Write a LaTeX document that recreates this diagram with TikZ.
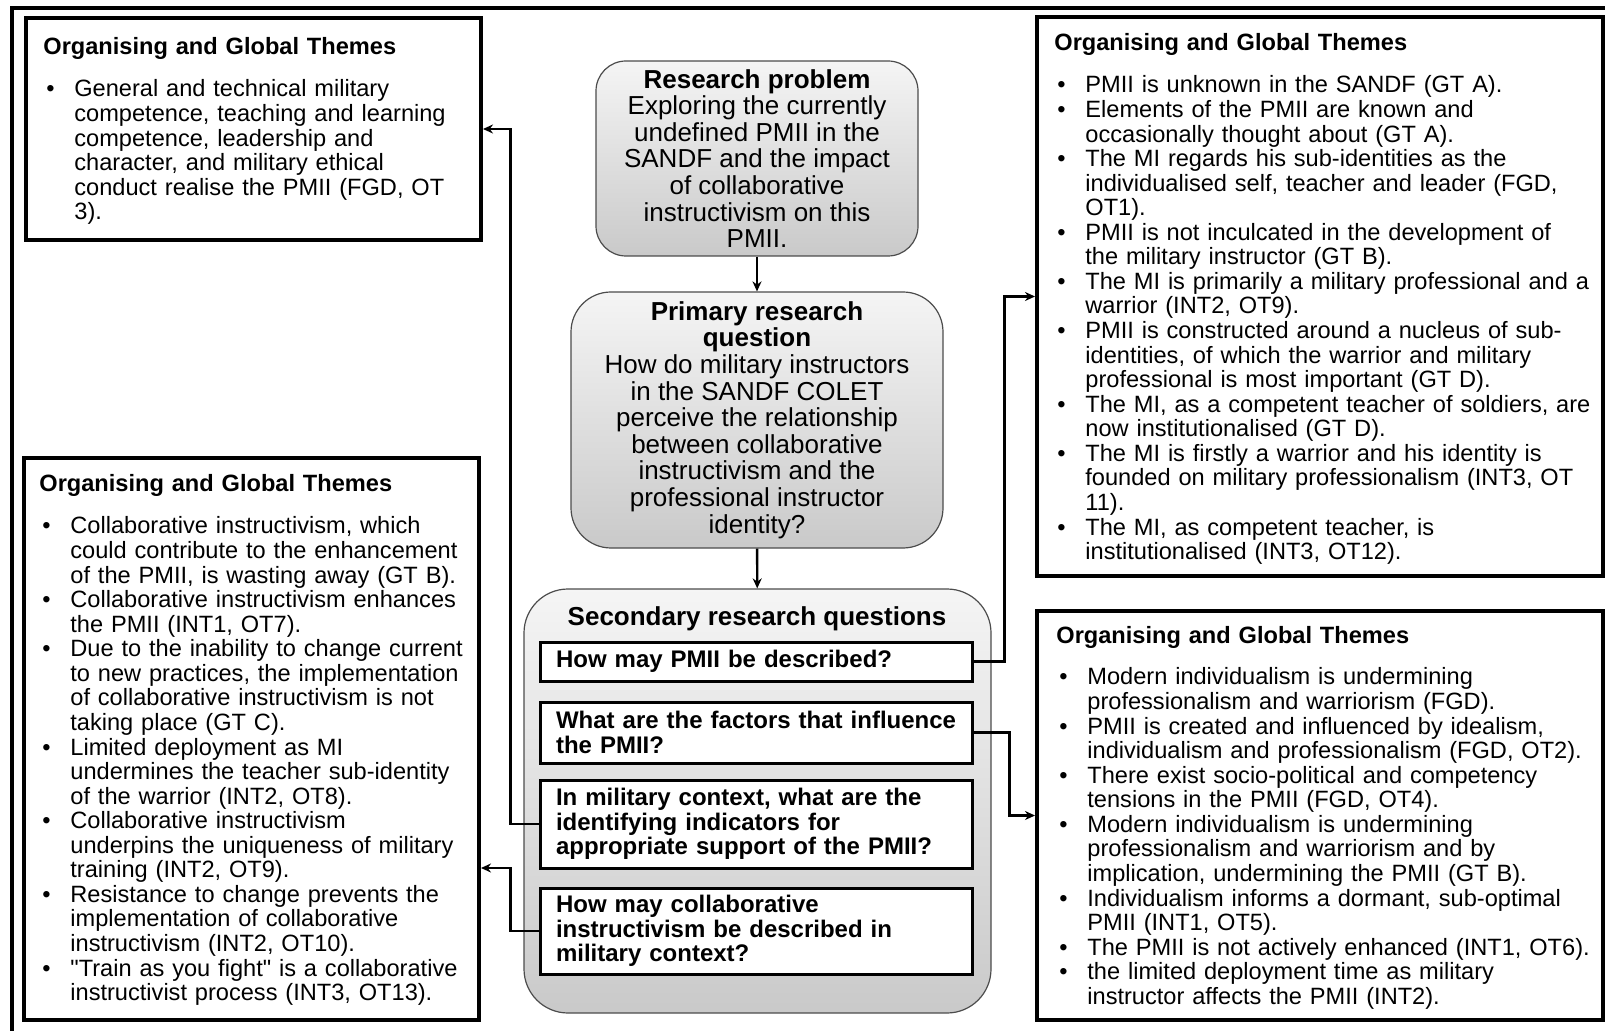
\documentclass[tikz,border=0pt]{standalone}
\usepackage{fontspec}
\setmainfont{Liberation Sans}
\usetikzlibrary{arrows.meta,shadows}

\newcommand{\themehead}{\noindent\textbf{Organising and Global Themes}\par\vspace{8.7pt}}
\newcommand{\themeitem}{\par\noindent\hangindent=15.5pt\hangafter=1\makebox[15.5pt][l]{\hspace{1.5pt}\textbullet}}

\begin{document}
\begin{tikzpicture}[x=0.5pt,y=-0.5pt,
  theme/.style={draw=black,line width=2pt,fill=white,inner sep=0pt,
               drop shadow={shadow xshift=1.2pt,shadow yshift=-1.2pt,opacity=0.3}},
  themetxt/.style={anchor=base west,inner sep=0pt,align=left,
               font=\fontsize{11.8}{12.28}\selectfont},
  stage/.style={draw=black!70,line width=0.6pt,top color=gray!8,bottom color=gray!42,
               align=center,inner sep=0pt,font=\fontsize{13}{13.3}\selectfont},
  quest/.style={draw=black,line width=1.5pt,fill=white,align=left,text width=200pt,
               inner xsep=8pt,inner ysep=0pt,minimum width=216pt,
               font=\fontsize{12}{12.28}\selectfont\bfseries},
  link/.style={line width=1.2pt,-{Stealth[length=5pt,width=4.5pt]}}]
  \useasboundingbox (0,0) rectangle (1605,1031);
  \draw[line width=2pt] (12,1031) -- (12,8) -- (1605,8);

  % centre column
  \node[stage,minimum width=161pt,minimum height=97.5pt,rounded corners=15pt] (rp) at (757,158.5)
    {\textbf{Research problem}\\Exploring the currently\\undefined PMII in the\\SANDF and the impact\\of collaborative\\instructivism on this\\PMII.};
  \node[stage,minimum width=186pt,minimum height=128pt,rounded corners=20pt] (pq) at (757,420)
    {\textbf{Primary research}\\\textbf{question}\\How do military instructors\\in the SANDF COLET\\perceive the relationship\\between collaborative\\instructivism and the\\professional instructor\\identity?};
  \node[stage,minimum width=233.5pt,minimum height=212pt,rounded corners=22pt] (sq) at (757.5,801) {};
  \node[font=\fontsize{13}{13.3}\selectfont\bfseries] (sqtitle) at (757,619) {Secondary research questions};
  \node[quest,minimum height=19.5pt] (q1) at (756,661.5) {How may PMII be described?};
  \node[quest,minimum height=30.5pt] (q2) at (756,732.5) {\mbox{What are the factors that influence}\\the PMII?};
  \node[quest,minimum height=44pt] (q3) at (756,824) {\mbox{In military context, what are the}\\identifying indicators for\\\mbox{appropriate support of the PMII?}};
  \node[quest,minimum height=43pt] (q4) at (756,931) {How may collaborative\\instructivism be described in\\military context?};

  % theme boxes
  \node[theme,minimum width=227.5pt,minimum height=111pt] (thl) at (253.5,129) {};
  \node[theme,minimum width=283pt,minimum height=279.5pt] (thr) at (1320,296.5) {};
  \node[theme,minimum width=227.5pt,minimum height=281pt] (bhl) at (251.5,739) {};
  \node[theme,minimum width=283pt,minimum height=204.5pt] (bhr) at (1320,815.5) {};

  \node[themetxt,text width=225pt] (thltxt) at (43,55) {\themehead
    \themeitem General and technical military\newline
     competence, teaching and learning\newline
     competence, leadership and\newline
     character, and military ethical\newline
     conduct realise the PMII (FGD, OT\newline
     3).\par};
  \node[themetxt,text width=280pt] (thrtxt) at (1054,51) {\themehead
    \themeitem PMII is unknown in the SANDF (GT A).
    \themeitem Elements of the PMII are known and\newline
     occasionally thought about (GT A).
    \themeitem The MI regards his sub-identities as the\newline
     individualised self, teacher and leader (FGD,\newline
     OT1).
    \themeitem PMII is not inculcated in the development of\newline
     the military instructor (GT B).
    \themeitem The MI is primarily a military professional and a\newline
     warrior (INT2, OT9).
    \themeitem PMII is constructed around a nucleus of sub-\newline
     identities, of which the warrior and military\newline
     professional is most important (GT D).
    \themeitem The MI, as a competent teacher of soldiers, are\newline
     now institutionalised (GT D).
    \themeitem The MI is firstly a warrior and his identity is\newline
     founded on military professionalism (INT3, OT\newline
     11).
    \themeitem The MI, as competent teacher, is\newline
     institutionalised (INT3, OT12).\par};
  \node[themetxt,text width=225pt] (bhltxt) at (39,492) {\themehead
    \themeitem Collaborative instructivism, which\newline
     could contribute to the enhancement\newline
     of the PMII, is wasting away (GT B).
    \themeitem Collaborative instructivism enhances\newline
     the PMII (INT1, OT7).
    \themeitem Due to the inability to change current\newline
     to new practices, the implementation\newline
     of collaborative instructivism is not\newline
     taking place (GT C).
    \themeitem Limited deployment as MI\newline
     undermines the teacher sub-identity\newline
     of the warrior (INT2, OT8).
    \themeitem Collaborative instructivism\newline
     underpins the uniqueness of military\newline
     training (INT2, OT9).
    \themeitem Resistance to change prevents the\newline
     implementation of collaborative\newline
     instructivism (INT2, OT10).
    \themeitem \textquotedbl Train as you fight\textquotedbl{} is a collaborative\newline
     instructivist process (INT3, OT13).\par};
  \node[themetxt,text width=280pt] (bhrtxt) at (1056,643) {\themehead
    \themeitem Modern individualism is undermining\newline
     professionalism and warriorism (FGD).
    \themeitem PMII is created and influenced by idealism,\newline
     individualism and professionalism (FGD, OT2).
    \themeitem There exist socio-political and competency\newline
     tensions in the PMII (FGD, OT4).
    \themeitem Modern individualism is undermining\newline
     professionalism and warriorism and by\newline
     implication, undermining the PMII (GT B).
    \themeitem Individualism informs a dormant, sub-optimal\newline
     PMII (INT1, OT5).
    \themeitem The PMII is not actively enhanced (INT1, OT6).
    \themeitem the limited deployment time as military\newline
     instructor affects the PMII (INT2).\par};

  % connectors
  \draw[link] (rp) -- (pq);
  \draw[link] (pq) -- (sq);
  \draw[link] (q1.east) -- ++(31,0) |- (thr.west);
  \draw[link] (q2.east) -- ++(36,0) |- (bhr.west);
  \draw[link] (q3.west) -- ++(-28,0) |- (thl.east);
  \draw[link] (q4.west) -- ++(-28,0) |- (bhl.east |- 0,868);
\end{tikzpicture}
\end{document}
